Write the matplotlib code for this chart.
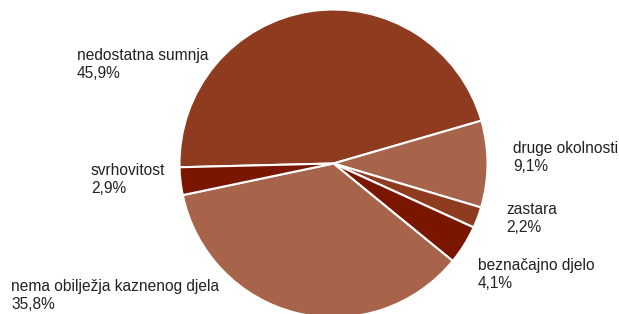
import matplotlib
matplotlib.use('Agg')
from matplotlib import pyplot as plt

# data
categories = ['nedostatna sumnja', 'druge okolnosti', 'zastara', 'beznačajno djelo',
              'nema obilježja kaznenog djela', 'svrhovitost']
shares = [45.9, 9.1, 2.2, 4.1, 35.8, 2.9]
pct_labels = ['45,9%', '9,1%', '2,2%', '4,1%', '35,8%', '2,9%']

# style / layout
colors = ['#8E3B20', '#A8644A', '#8E3B20', '#7A1600', '#A8644A', '#7A1600']
label_pos = [(77, 48), (513, 141), (506, 202), (478, 258), (11, 279), (91, 163)]  # px from top-left

W, H = 619, 314
fig = plt.figure(figsize=(W / 100, H / 100), dpi=100)
ax = fig.add_axes([0, 0, 1, 1])

ax.pie(shares, colors=colors, startangle=181.4, counterclock=False,
       center=(333.5, H - 163.5), radius=154,
       wedgeprops=dict(edgecolor='white', linewidth=1.5))

ax.set_xlim(0, W)
ax.set_ylim(0, H)
ax.set_aspect('equal')
ax.axis('off')

for name, pct, (x, y) in zip(categories, pct_labels, label_pos):
    ax.text(x, H - y, name + '\n' + pct, ha='left', va='top', fontsize=11.2,
            family='Liberation Sans', color='#222222', linespacing=1.25)

fig.savefig('out.png', dpi=100)
